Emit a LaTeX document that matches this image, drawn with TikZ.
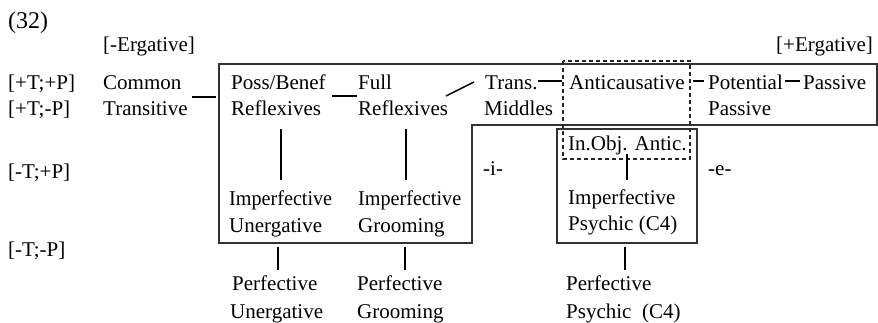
\documentclass[tikz,border=0pt]{standalone}
\usepackage{fontspec}
\setmainfont{Liberation Serif}
\begin{document}
\begin{tikzpicture}[x=1pt,y=-1pt,
  lbl/.style={anchor=base west,inner sep=0pt,font=\fontsize{21}{24}\selectfont},
  lblr/.style={anchor=base east,inner sep=0pt,font=\fontsize{21}{24}\selectfont},
  conn/.style={line width=1.5pt,draw=black},
  frame/.style={line width=1.3pt,draw=black!80},
  dframe/.style={line width=1.2pt,draw=black!85,dash pattern=on 4pt off 3pt}]
\useasboundingbox (0,0) rectangle (878,322);
% labels
\node[lbl,font=\fontsize{24}{28}\selectfont] (num) at (8,28) {(32)};
\node[lbl] (nerg) at (103,51) {[-Ergative]};
\node[lblr] (perg) at (873,51) {[+Ergative]};
\node[lbl] (r1) at (8,89) {[+T;+P]};
\node[lbl] (r2) at (8,115) {[+T;-P]};
\node[lbl] (r3) at (8,178) {[-T;+P]};
\node[lbl] (r4) at (8,256) {[-T;-P]};
\node[lbl] (common) at (103,89) {Common};
\node[lbl] (trans) at (103,115) {Transitive};
\node[lbl] (poss) at (231,89) {Poss/Benef};
\node[lbl] (refl1) at (231,115) {Reflexives};
\node[lbl] (full) at (358,89) {Full};
\node[lbl] (refl2) at (358,115) {Reflexives};
\node[lbl] (tr) at (485,89) {Trans.};
\node[lbl] (mid) at (484,115) {Middles};
\node[lbl] (anti) at (569,89) {Anticausative};
\node[lbl] (pot) at (708,89) {Potential};
\node[lbl] (pas2) at (708,115) {Passive};
\node[lbl] (pas) at (803,89) {Passive};
\node[lbl] (inobj) at (568,150) {In.Obj. Antic.};
\node[lbl] (ii) at (483,175) {-i-};
\node[lbl] (ee) at (708,175) {-e-};
\node[lbl] (imp1) at (229,205) {\scalebox{0.96}[1]{Imperfective}};
\node[lbl] (uner1) at (229,232) {Unergative};
\node[lbl] (imp2) at (358,205) {\scalebox{0.96}[1]{Imperfective}};
\node[lbl] (groom1) at (358,232) {Grooming};
\node[lbl] (imp3) at (568,204) {Imperfective};
\node[lbl] (psy1) at (568,230) {Psychic (C4)};
\node[lbl] (perf1) at (232,290) {Perfective};
\node[lbl] (uner2) at (230,318) {Unergative};
\node[lbl] (perf2) at (357,290) {Perfective};
\node[lbl] (groom2) at (357,318) {Grooming};
\node[lbl] (perf3) at (566,290) {Perfective};
\node[lbl] (psy2) at (566,318) {Psychic\ \ (C4)};
% frames
\draw[frame] (219,64) -- (877,64) -- (877,125) -- (472,125) -- (472,243) -- (219,243) -- cycle;
\draw[frame] (557,129) rectangle (697,243);
\draw[dframe] (563,61) rectangle (690,159);
% connector end points
\coordinate (c1a) at (192,97); \coordinate (c1b) at (216,97);
\coordinate (c2a) at (332,96); \coordinate (c2b) at (357,96);
\coordinate (c3a) at (446,96); \coordinate (c3b) at (474,82);
\coordinate (c4a) at (538,81); \coordinate (c4b) at (562,81);
\coordinate (c5a) at (693,81); \coordinate (c5b) at (704,81);
\coordinate (c6a) at (785,81); \coordinate (c6b) at (800,81);
\coordinate (v1a) at (281,129); \coordinate (v1b) at (281,180);
\coordinate (v2a) at (406,129); \coordinate (v2b) at (406,180);
\coordinate (v3a) at (627,154); \coordinate (v3b) at (627,180);
\coordinate (v4a) at (278,247); \coordinate (v4b) at (278,270);
\coordinate (v5a) at (405,247); \coordinate (v5b) at (405,270);
\coordinate (v6a) at (625,247); \coordinate (v6b) at (625,270);
\draw[conn] (c1a) -- (c1b);
\draw[conn] (c2a) -- (c2b);
\draw[conn] (c3a) -- (c3b);
\draw[conn] (c4a) -- (c4b);
\draw[conn] (c5a) -- (c5b);
\draw[conn] (c6a) -- (c6b);
\draw[conn] (v1a) -- (v1b);
\draw[conn] (v2a) -- (v2b);
\draw[conn] (v3a) -- (v3b);
\draw[conn] (v4a) -- (v4b);
\draw[conn] (v5a) -- (v5b);
\draw[conn] (v6a) -- (v6b);
\end{tikzpicture}
\end{document}
